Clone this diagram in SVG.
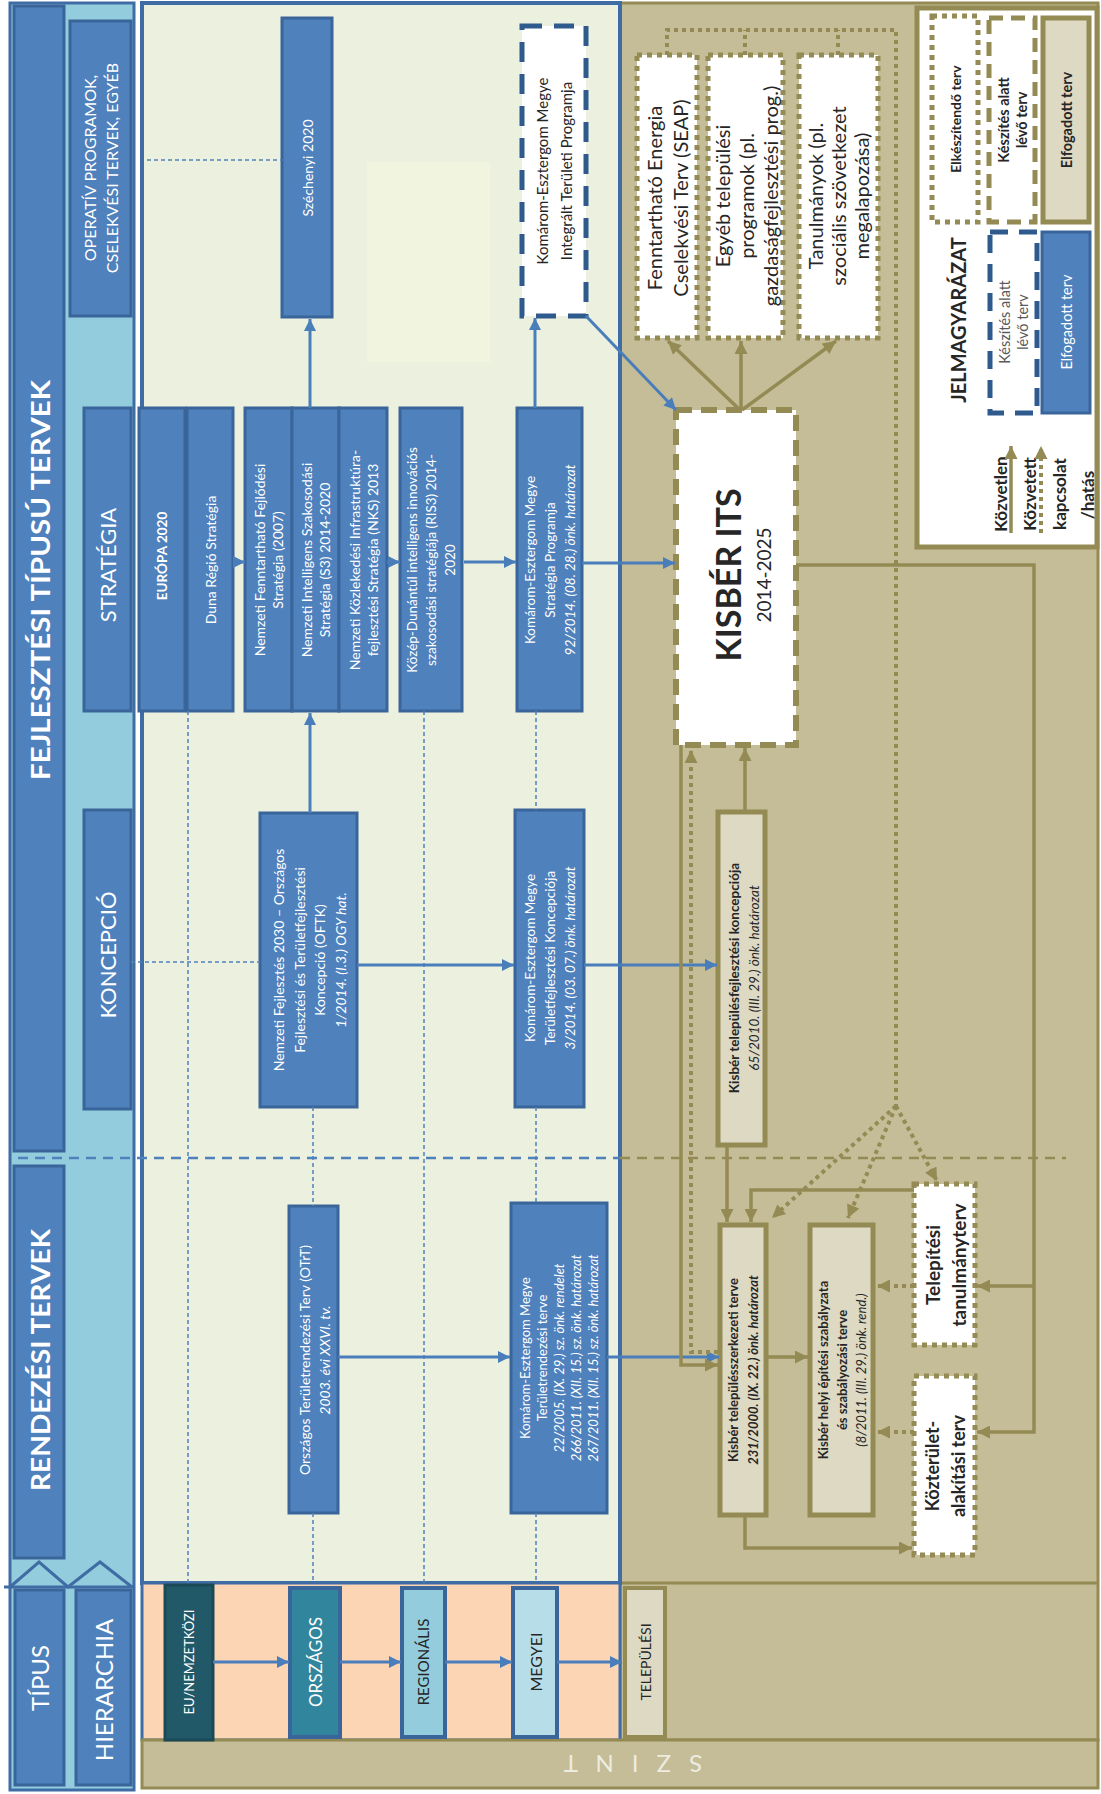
<svg xmlns="http://www.w3.org/2000/svg" width="1101" height="1794" viewBox="0 0 1101 1794">
<defs>
<marker id="ab" viewBox="0 0 10 10" refX="10" refY="5" markerWidth="13" markerHeight="12" markerUnits="userSpaceOnUse" orient="auto"><path d="M0,0L10,5L0,10z" fill="#4A7EBB"/></marker>
<marker id="at" viewBox="0 0 10 10" refX="10" refY="5" markerWidth="14" markerHeight="13" markerUnits="userSpaceOnUse" orient="auto"><path d="M0,0L10,5L0,10z" fill="#948A54"/></marker>
<style>
.t{font-family:Lato,'Open Sans','Liberation Sans',sans-serif;text-anchor:middle;dominant-baseline:central}
.w{fill:#fff}.d{fill:#262626}.b{font-weight:bold}.i{font-style:italic}
.bar{fill:#4F81BD;stroke:#3A659A;stroke-width:3}
.bx{fill:#4F81BD;stroke:#3A659A;stroke-width:3}
.tb{fill:#DDD9C3;stroke:#948A54;stroke-width:5}
.dot{fill:#fff;stroke:#948A54;stroke-width:5;stroke-dasharray:5 5}
.cb{fill:none;stroke:#4A7EBB;stroke-width:3;marker-end:url(#ab)}
.ct{fill:none;stroke:#948A54;stroke-width:3.5;marker-end:url(#at)}
.cd{fill:none;stroke:#948A54;stroke-width:4;stroke-dasharray:4 4}
.cda{fill:none;stroke:#948A54;stroke-width:4;stroke-dasharray:4 4;marker-end:url(#at)}
.dl{fill:none;stroke:#4F81BD;stroke-width:1.5;stroke-dasharray:4 3}
</style>
</defs>
<rect width="1101" height="1794" fill="#fff"/>

<!-- background regions -->
<g id="regions">
<rect x="10" y="3" width="124" height="1787" fill="#93CDDD" stroke="#3F6CA5" stroke-width="3"/>
<rect x="620" y="3" width="478" height="1737" fill="#C4BD97" stroke="#948A54" stroke-width="3"/>
<line x1="620" y1="1583" x2="1098" y2="1583" stroke="#948A54" stroke-width="3"/>
<rect x="142" y="3" width="478" height="1580" fill="#EBF1DE" stroke="#3F6CA5" stroke-width="4"/>
<rect x="367" y="162" width="123" height="200" fill="#F1F4DF"/>
<rect x="142" y="1583" width="478" height="157" fill="#FCD5B5" stroke="#3F6CA5" stroke-width="3"/>
<rect x="142" y="1740" width="956" height="48" fill="#C4BD97" stroke="#948A54" stroke-width="3"/>
<text class="t" transform="translate(630,1764) rotate(180)" font-size="24" fill="#EEECE1" letter-spacing="6">S Z I N T</text>
</g>

<!-- left strip -->
<g id="fejlesztesi"><rect class="bar" x="14" y="6" width="50" height="1145"/><text class="t w b" font-size="27" textLength="400" lengthAdjust="spacingAndGlyphs" transform="translate(39,580) rotate(-90)">FEJLESZTÉSI TÍPUSÚ TERVEK</text></g>
<g id="rendezesi"><rect class="bar" x="14" y="1166" width="50" height="392"/><text class="t w b" font-size="27" textLength="262" lengthAdjust="spacingAndGlyphs" transform="translate(39,1360) rotate(-90)">RENDEZÉSI TERVEK</text></g>
<g id="operativ"><rect class="bar" x="70" y="21" width="61" height="295"/><text class="t w" font-size="16" transform="translate(100,168) rotate(-90)"><tspan x="0" y="-11">OPERATÍV PROGRAMOK,</tspan><tspan x="0" y="11">CSELEKVÉSI TERVEK, EGYÉB</tspan></text></g>
<g id="strategia"><rect class="bar" x="84" y="408" width="47" height="303"/><text class="t w" font-size="22" transform="translate(107,565) rotate(-90)">STRATÉGIA</text></g>
<g id="koncepcio"><rect class="bar" x="84" y="810" width="47" height="299"/><text class="t w" font-size="22" transform="translate(107,955) rotate(-90)">KONCEPCIÓ</text></g>
<g id="chevrons"><polyline points="10,1587 39,1562 68,1587 100,1562 132,1587" fill="none" stroke="#3F6CA5" stroke-width="3"/><line x1="4" y1="1587" x2="134" y2="1587" stroke="#3F6CA5" stroke-width="3"/></g>
<g id="tipus"><rect class="bar" x="15" y="1590" width="49" height="195"/><text class="t w" font-size="24" transform="translate(39,1678) rotate(-90)">TÍPUS</text></g>
<g id="hierarchia"><rect class="bar" x="76" y="1590" width="55" height="195"/><text class="t w" font-size="24" transform="translate(103,1690) rotate(-90)">HIERARCHIA</text></g>

<!-- level row -->
<g id="eu"><rect x="165" y="1585" width="48" height="155" fill="#215968" stroke="#1B4A57" stroke-width="3"/><text class="t w" font-size="13" transform="translate(189,1662) rotate(-90)">EU/NEMZETKÖZI</text></g>
<g id="orszagos"><rect x="290" y="1588" width="50" height="149" fill="#31859C" stroke="#3A659A" stroke-width="4"/><text class="t w" font-size="17" transform="translate(315,1662) rotate(-90)">ORSZÁGOS</text></g>
<g id="regionalis"><rect x="402" y="1588" width="43" height="149" fill="#93CDDD" stroke="#3A659A" stroke-width="4"/><text class="t d" font-size="15" transform="translate(423,1662) rotate(-90)">REGIONÁLIS</text></g>
<g id="megyei"><rect x="513" y="1588" width="44" height="149" fill="#B7DEE8" stroke="#3A659A" stroke-width="4"/><text class="t d" font-size="16" transform="translate(535,1662) rotate(-90)">MEGYEI</text></g>
<g id="telepulesi"><rect x="625" y="1588" width="40" height="149" fill="#DDD9C3" stroke="#948A54" stroke-width="4"/><text class="t d" font-size="14" transform="translate(645,1662) rotate(-90)">TELEPÜLÉSI</text></g>

<!-- green region nodes -->
<g id="szechenyi"><rect class="bx" x="282" y="18" width="50" height="299"/><text class="t w" font-size="14" transform="translate(307,168) rotate(-90)">Széchenyi 2020</text></g>
<g id="itp"><rect x="522" y="26" width="64" height="290" fill="#fff" stroke="#2F5A8E" stroke-width="5" stroke-dasharray="20 12"/><text class="t d" font-size="15" transform="translate(554,171) rotate(-90)"><tspan x="0" y="-12">Komárom-Esztergom Megye</tspan><tspan x="0" y="12">Integrált Területi Programja</tspan></text></g>
<g id="europa"><rect class="bx" x="139" y="408" width="46" height="303"/><text class="t w b" font-size="13.5" transform="translate(162,556) rotate(-90)">EURÓPA 2020</text></g>
<g id="duna"><rect class="bx" x="187" y="408" width="46" height="303"/><text class="t w" font-size="14" transform="translate(210,560) rotate(-90)">Duna Régió Stratégia</text></g>
<g id="nemzeti"><rect class="bx" x="245" y="408" width="47" height="303"/><rect class="bx" x="292" y="408" width="47" height="303"/><rect class="bx" x="339" y="408" width="48" height="303"/>
<text class="t w" font-size="14" transform="translate(268,560) rotate(-90)"><tspan x="0" y="-9">Nemzeti Fenntartható Fejlődési</tspan><tspan x="0" y="9">Stratégia (2007)</tspan></text>
<text class="t w" font-size="14" transform="translate(315,560) rotate(-90)"><tspan x="0" y="-9">Nemzeti Intelligens Szakosodási</tspan><tspan x="0" y="9">Stratégia (S3) 2014-2020</tspan></text>
<text class="t w" font-size="14" transform="translate(363,560) rotate(-90)"><tspan x="0" y="-9">Nemzeti Közlekedési Infrastruktúra-</tspan><tspan x="0" y="9">fejlesztési Stratégia (NKS) 2013</tspan></text></g>
<g id="ris3"><rect class="bx" x="400" y="408" width="62" height="303"/><text class="t w" font-size="13.5" transform="translate(431,560) rotate(-90)"><tspan x="0" y="-19">Közép-Dunántúl intelligens innovációs</tspan><tspan x="0" y="0">szakosodási stratégiája (RIS3) 2014-</tspan><tspan x="0" y="19">2020</tspan></text></g>
<g id="kem-strat"><rect class="bx" x="517" y="408" width="65" height="303"/><text class="t w" font-size="13.5" transform="translate(550,560) rotate(-90)"><tspan x="0" y="-20">Komárom-Esztergom Megye</tspan><tspan x="0" y="0">Stratégia Programja</tspan><tspan class="i" x="0" y="20">92/2014. (08. 28.) önk. határozat</tspan></text></g>
<g id="oftk"><rect class="bx" x="260" y="813" width="97" height="294"/><text class="t w" font-size="14" transform="translate(309,960) rotate(-90)"><tspan x="0" y="-31">Nemzeti Fejlesztés 2030 – Országos</tspan><tspan x="0" y="-10">Fejlesztési és Területfejlesztési</tspan><tspan x="0" y="10">Koncepció (OFTK)</tspan><tspan class="i" x="0" y="31">1/2014. (I.3.) OGY hat.</tspan></text></g>
<g id="kem-konc"><rect class="bx" x="515" y="810" width="69" height="297"/><text class="t w" font-size="13.5" transform="translate(550,958) rotate(-90)"><tspan x="0" y="-20">Komárom-Esztergom Megye</tspan><tspan x="0" y="0">Területfejlesztési Koncepciója</tspan><tspan class="i" x="0" y="20">3/2014. (03. 07.) önk. határozat</tspan></text></g>
<g id="otrt"><rect class="bx" x="289" y="1206" width="49" height="307"/><text class="t w" font-size="14" transform="translate(314,1360) rotate(-90)"><tspan x="0" y="-10">Országos Területrendezési Terv (OTrT)</tspan><tspan class="i" x="0" y="10">2003. évi XXVI. tv.</tspan></text></g>
<g id="kem-tr"><rect class="bx" x="511" y="1203" width="96" height="310"/><text class="t w" font-size="13" transform="translate(559,1358) rotate(-90)"><tspan x="0" y="-34">Komárom-Esztergom Megye</tspan><tspan x="0" y="-17">Területrendezési terve</tspan><tspan class="i" x="0" y="0">22/2005. (IX. 29.) sz. önk. rendelet</tspan><tspan class="i" x="0" y="17">266/2011. (XII. 15.) sz. önk. határozat</tspan><tspan class="i" x="0" y="34">267/2011. (XII. 15.) sz. önk. határozat</tspan></text></g>

<!-- tan region nodes -->
<g id="its"><rect x="676" y="410" width="120" height="335" fill="#fff" stroke="#948A54" stroke-width="6" stroke-dasharray="16 9"/><text class="t d b" font-size="34" transform="translate(727,575) rotate(-90)">KISBÉR ITS</text><text class="t d" font-size="19" transform="translate(763,575) rotate(-90)">2014-2025</text></g>
<g id="seap"><rect class="dot" x="637" y="55" width="60" height="283"/><text class="t d" font-size="20" transform="translate(667,198) rotate(-90)"><tspan x="0" y="-13">Fenntartható Energia</tspan><tspan x="0" y="13">Cselekvési Terv (SEAP)</tspan></text></g>
<g id="egyeb"><rect class="dot" x="708" y="55" width="75" height="283"/><text class="t d" font-size="20" transform="translate(746,196) rotate(-90)"><tspan x="0" y="-24">Egyéb települési</tspan><tspan x="0" y="0">programok (pl.</tspan><tspan x="0" y="24">gazdaságfejlesztési prog.)</tspan></text></g>
<g id="tanulmanyok"><rect class="dot" x="799" y="55" width="79" height="283"/><text class="t d" font-size="20" transform="translate(838,196) rotate(-90)"><tspan x="0" y="-23">Tanulmányok (pl.</tspan><tspan x="0" y="0">szociális szövetkezet</tspan><tspan x="0" y="23">megalapozása)</tspan></text></g>
<g id="kisber-konc"><rect class="tb" x="718" y="812" width="47" height="333"/><text class="t d" font-size="13.5" transform="translate(744,978) rotate(-90)"><tspan class="b" x="0" y="-10">Kisbér településfejlesztési koncepciója</tspan><tspan class="i" x="0" y="10">65/2010. (III. 29.) önk. határozat</tspan></text></g>
<g id="kisber-szerk"><rect class="tb" x="720" y="1225" width="46" height="290"/><text class="t d b" font-size="13" transform="translate(743,1370) rotate(-90)"><tspan x="0" y="-10">Kisbér településszerkezeti terve</tspan><tspan class="i" x="0" y="10">231/2000. (IX. 22.) önk. határozat</tspan></text></g>
<g id="kisber-hesz"><rect class="tb" x="810" y="1225" width="63" height="290"/><text class="t d" font-size="13" transform="translate(842,1370) rotate(-90)"><tspan class="b" x="0" y="-19">Kisbér helyi építési szabályzata</tspan><tspan class="b" x="0" y="0">és szabályozási terve</tspan><tspan class="i" x="0" y="19">(8/2011. (III. 29.) önk. rend.)</tspan></text></g>
<g id="telepitesi"><rect class="dot" x="914" y="1184" width="61" height="161"/><text class="t d b" font-size="19" transform="translate(945,1265) rotate(-90)"><tspan x="0" y="-13">Telepítési</tspan><tspan x="0" y="13">tanulmányterv</tspan></text></g>
<g id="kozterulet"><rect class="dot" x="914" y="1376" width="61" height="179"/><text class="t d b" font-size="18" transform="translate(945,1466) rotate(-90)"><tspan x="0" y="-13">Közterület-</tspan><tspan x="0" y="13">alakítási  terv</tspan></text></g>

<!-- legend -->
<g id="legend"><rect x="917" y="8" width="180" height="539" fill="#fff" stroke="#948A54" stroke-width="5"/>
<rect class="dot" x="932" y="16" width="46" height="206"/><text class="t d b" font-size="14" transform="translate(955,119) rotate(-90)">Elkészítendő terv</text>
<rect x="989" y="18" width="46" height="204" fill="#fff" stroke="#948A54" stroke-width="5" stroke-dasharray="14 8"/><text class="t d b" font-size="14.5" transform="translate(1012,120) rotate(-90)"><tspan x="0" y="-9">Készítés alatt</tspan><tspan x="0" y="9">lévő terv</tspan></text>
<rect class="tb" x="1043" y="18" width="46" height="204"/><text class="t d b" font-size="14.5" transform="translate(1066,120) rotate(-90)">Elfogadott terv</text>
<text class="t d b" font-size="20" transform="translate(958,320) rotate(-90)">JELMAGYARÁZAT</text>
<rect x="990" y="232" width="47" height="181" fill="#fff" stroke="#2F5A8E" stroke-width="5" stroke-dasharray="18 11"/><text class="t" fill="#595959" font-size="14.5" transform="translate(1013,322) rotate(-90)"><tspan x="0" y="-9">Készítés alatt</tspan><tspan x="0" y="9">lévő terv</tspan></text>
<rect class="bx" x="1042" y="232" width="48" height="181"/><text class="t w" font-size="14.5" transform="translate(1066,322) rotate(-90)">Elfogadott terv</text>
<text class="t d b" font-size="17" transform="translate(1000,494) rotate(-90)">Közvetlen</text>
<text class="t d b" font-size="17" transform="translate(1029,494) rotate(-90)">Közvetett</text>
<text class="t d b" font-size="17" transform="translate(1059,494) rotate(-90)">kapcsolat</text>
<text class="t d b" font-size="17" transform="translate(1087,495) rotate(-90)">/hatás</text>
</g>

<!-- connectors -->
<g id="connectors">
<path class="dl" d="M147,160H282M131,962H260M188,711V1583M313,1107V1206M313,1513V1583M424,711V1583M536,711V810M536,1107V1203M536,1513V1583"/>
<path d="M18,1158H620" fill="none" stroke="#4F81BD" stroke-width="2.5" stroke-dasharray="10 7"/>
<path d="M620,1158H1066" fill="none" stroke="#948A54" stroke-width="2.5" stroke-dasharray="10 7"/>
<path class="cb" d="M310,408V319"/>
<path class="cb" d="M310,813V713"/>
<path class="cb" d="M535,408V318"/>
<path class="cb" d="M233,562H245"/>
<path class="cb" d="M387,562H400"/>
<path class="cb" d="M464,562H516"/>
<path class="cb" d="M582,563H675"/>
<path class="cb" d="M586,316L676,410"/>
<path class="cb" d="M357,965H514"/>
<path class="cb" d="M584,965H717"/>
<path class="cb" d="M338,1357H510"/>
<path class="cb" d="M607,1357H719"/>
<path class="cb" d="M213,1662H289"/>
<path class="cb" d="M340,1662H401"/>
<path class="cb" d="M445,1662H512"/>
<path class="cb" d="M557,1662H622"/>
<path class="ct" d="M740,410L668,341"/>
<path class="ct" d="M741,410V341"/>
<path class="ct" d="M742,410L836,341"/>
<path class="ct" d="M745,812V748"/>
<path class="ct" d="M681,745V1365H718"/>
<path class="ct" d="M796,565H1034V1432H977"/>
<path class="ct" d="M1034,1286H977"/>
<path class="ct" d="M727,1145V1222"/>
<path class="ct" d="M914,1190H751V1222"/>
<path class="ct" d="M766,1357H808"/>
<path class="ct" d="M745,1515V1548H912"/>
<path class="cd" d="M667,55V30H896V1106M745,55V30M838,55V30"/>
<path class="cda" d="M718,1352H691V750"/>
<path class="cda" d="M896,1106L772,1218"/>
<path class="cda" d="M896,1106L848,1218"/>
<path class="cda" d="M896,1106L937,1181"/>
<path class="cda" d="M914,1286H877"/>
<path class="cda" d="M914,1432H877"/>
<path class="ct" d="M1011,533V446"/>
<path class="cda" d="M1041,533V446"/>
</g>
</svg>
